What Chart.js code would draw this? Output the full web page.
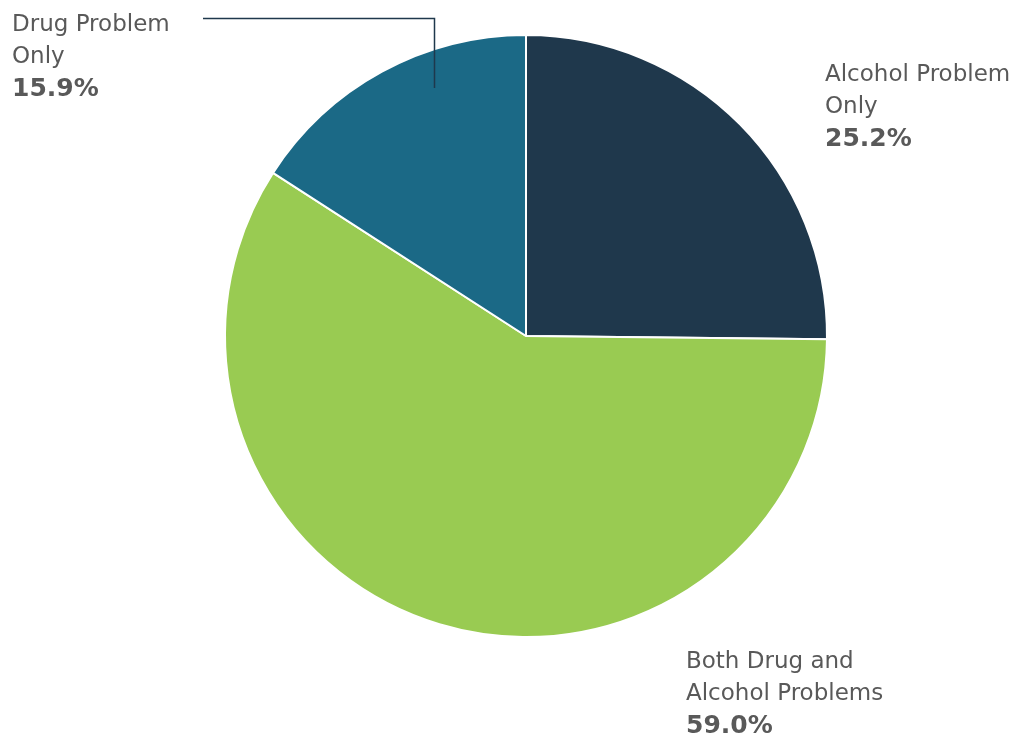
<!DOCTYPE html>
<html>
<head>
<meta charset="utf-8">
<script src="https://cdn.jsdelivr.net/npm/chart.js@4"></script>
<style>
  html, body { margin:0; padding:0; background:#fff; }
  #wrap { width:1016px; height:739px; position:relative; }
</style>
</head>
<body>
<div id="wrap"><canvas id="pie" width="1016" height="739"></canvas></div>
<script>
// data
const categories = ['Alcohol Problem Only', 'Both Drug and Alcohol Problems', 'Drug Problem Only'];
const shares = [25.2, 59.0, 15.9];
const colors = ['#1f384c', '#99cb52', '#1b6986'];

// label lines + where they sit
const labelLines = [
  ['Alcohol Problem', 'Only'],
  ['Both Drug and', 'Alcohol Problems'],
  ['Drug Problem', 'Only']
];
const labelPos = [[825, 75], [686, 662], [12, 25]];

const textColor = '#595959';
const fontName = '"DejaVu Sans", Verdana, sans-serif';

// plugin buat tulis label
const labelPlugin = {
  id: 'pieLabels',
  afterDraw(chart) {
    const ctx = chart.ctx;
    ctx.save();
    // garis penunjuk untuk Drug Problem Only
    ctx.strokeStyle = '#1f384c';
    ctx.lineWidth = 1.5;
    ctx.beginPath();
    ctx.moveTo(203, 18.5);
    ctx.lineTo(434.5, 18.5);
    ctx.lineTo(434.5, 88);
    ctx.stroke();

    ctx.fillStyle = textColor;
    ctx.textBaseline = 'middle';
    ctx.textAlign = 'left';
    labelLines.forEach((lines, i) => {
      const [x, y] = labelPos[i];
      ctx.font = '23px ' + fontName;
      lines.forEach((t, j) => ctx.fillText(t, x, y + j * 32));
      ctx.font = 'bold 25px ' + fontName;
      ctx.fillText(shares[i].toFixed(1) + '%', x, y + lines.length * 32);
    });
    ctx.restore();
  }
};

new Chart(document.getElementById('pie'), {
  type: 'pie',
  data: {
    labels: categories,
    datasets: [{
      data: shares,
      backgroundColor: colors,
      borderColor: '#ffffff',
      borderWidth: 2
    }]
  },
  options: {
    responsive: false,
    animation: false,
    layout: { padding: { top: 34, bottom: 101, left: 224, right: 188 } },
    plugins: { legend: { display: false }, tooltip: { enabled: false } }
  },
  plugins: [labelPlugin]
});
</script>
</body>
</html>
